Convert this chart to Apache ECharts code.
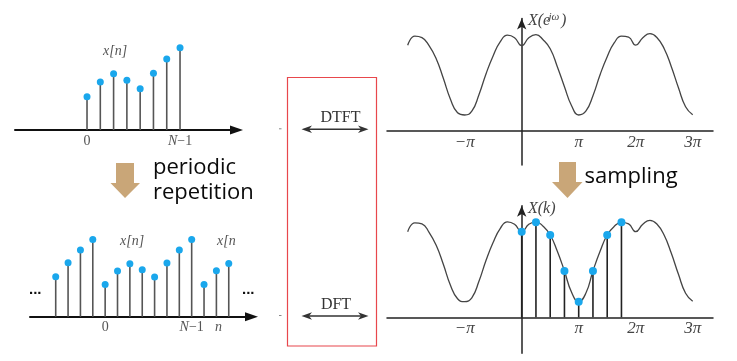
<!DOCTYPE html>
<html><head><meta charset="utf-8">
<script src="https://cdn.jsdelivr.net/npm/echarts@6/dist/echarts.min.js"></script>
<style>html,body{margin:0;padding:0;background:#fff}#c{width:737px;height:361px}</style>
</head><body><div id="c"></div>
<script>
// ---- data ----
const seqN = [0, 1, 2, 3, 4, 5, 6, 7];
const seqX = [33.3, 48, 56.3, 49.7, 41.3, 56.7, 71, 82.3];
const perN = [-4, -3, -2, -1, 0, 1, 2, 3, 4, 5, 6, 7, 8, 9, 10];
const perX = [40, 54, 66.7, 77.3, 32.3, 45.7, 53, 47, 39.7, 53.7, 66.7, 77.3, 32.3, 46, 53.3];
const seqTicks = [0, 7];
const seqTickLabels = ['0', '{i|N}−1'];
const omega = [-2, -1.875, -1.75, -1.625, -1.5, -1.375, -1.25, -1.125, -1, -0.875, -0.75, -0.625, -0.5, -0.375, -0.25, -0.125,
  0, 0.125, 0.25, 0.375, 0.5, 0.625, 0.75, 0.875, 1, 1.125, 1.25, 1.375, 1.5, 1.625, 1.75, 1.875,
  2, 2.125, 2.25, 2.375, 2.5, 2.625, 2.75, 2.875, 3];
const dtft = [85.5, 94.5, 93, 85, 72, 52.4, 31.5, 18, 15.7, 19.5, 36, 57, 75, 89, 95.5, 93,
  85, 93, 96, 91, 82, 64, 44, 25, 15.7, 19.5, 35, 56, 74, 88, 94.5, 93.5,
  85.5, 93, 97, 93, 82, 64, 43, 24, 16];
const dtftSampled = [85.5, 94.5, 93.5, 85, 72, 53, 32, 18.5, 15.6, 19.5, 36, 57, 75, 89, 95.5, 93,
  85.6, 93, 95.5, 91, 82.3, 66, 46.3, 25, 15.6, 24, 46.3, 66, 82.3, 91, 95, 93.5,
  85.6, 93, 97, 93, 82, 64, 43, 24, 16];
const kPos = [0, 0.25, 0.5, 0.75, 1, 1.25, 1.5, 1.75];
const kVal = [85.6, 95, 82.3, 46.3, 15.6, 46.3, 82.3, 95];
const piTicks = [-1, 1, 2, 3];
const piTickLabels = ['−π', 'π', '2π', '3π'];

// ---- chart ----
const SERIF = '"Liberation Serif", "DejaVu Serif", serif';
const BLUE = '#1aa7ec';
const TAN = '#c9a678';
const chart = echarts.init(document.getElementById('c'));

function pairs(xs, ys) { return xs.map((x, i) => [x, ys[i]]); }

const leftAxisLine = {show: true, symbol: ['none', 'triangle'], symbolSize: [9, 13], lineStyle: {color: '#111', width: 2}};
const leftLabel = {fontFamily: SERIF, fontSize: 14, color: '#555', margin: 4,
  rich: {i: {fontFamily: SERIF, fontSize: 14, fontStyle: 'italic', color: '#555'}}};
const rightXAxisLine = {show: true, onZero: false, lineStyle: {color: '#222', width: 1.5}};
const rightYAxisLine = {show: true, onZero: true, symbol: ['none', 'arrow'], symbolSize: [7, 11], lineStyle: {color: '#222', width: 1.5}};
const rightLabel = {fontFamily: SERIF, fontSize: 17, fontStyle: 'italic', color: '#444', margin: 3,
  customValues: piTicks, formatter: v => piTickLabels[piTicks.indexOf(v)]};
const gridBase = {outerBoundsMode: 'none', containLabel: false};

chart.setOption({
  animation: false,
  backgroundColor: '#fff',
  grid: [
    Object.assign({left: 15, width: 221.5, top: 30, height: 100}, gridBase),
    Object.assign({left: 30, width: 221.5, top: 216.7, height: 100}, gridBase),
    Object.assign({left: 387, width: 326, top: 18.5, height: 146.5}, gridBase),
    Object.assign({left: 387, width: 326, top: 205.7, height: 147.6}, gridBase)
  ],
  xAxis: [
    {type: 'value', gridIndex: 0, min: -5.42, max: 11.25, splitLine: {show: false}, axisTick: {show: false},
      axisLine: leftAxisLine,
      axisLabel: Object.assign({customValues: seqTicks, formatter: v => seqTickLabels[seqTicks.indexOf(v)]}, leftLabel)},
    {type: 'value', gridIndex: 1, min: -6.08, max: 11.84, splitLine: {show: false}, axisTick: {show: false},
      axisLine: leftAxisLine,
      axisLabel: Object.assign({customValues: seqTicks, formatter: v => seqTickLabels[seqTicks.indexOf(v)]}, leftLabel)},
    {type: 'value', gridIndex: 2, min: -2.363, max: 3.356, offset: -34.3, splitLine: {show: false}, axisTick: {show: false},
      axisLine: rightXAxisLine, axisLabel: rightLabel},
    {type: 'value', gridIndex: 3, min: -2.363, max: 3.356, offset: -36, splitLine: {show: false}, axisTick: {show: false},
      axisLine: rightXAxisLine, axisLabel: rightLabel}
  ],
  yAxis: [
    {type: 'value', gridIndex: 0, min: 0, max: 100, show: false},
    {type: 'value', gridIndex: 1, min: 0, max: 100, show: false},
    {type: 'value', gridIndex: 2, min: -34.3, max: 112.2, splitLine: {show: false}, axisTick: {show: false},
      axisLabel: {show: false}, axisLine: rightYAxisLine},
    {type: 'value', gridIndex: 3, min: -36, max: 111.6, splitLine: {show: false}, axisTick: {show: false},
      axisLabel: {show: false}, axisLine: rightYAxisLine}
  ],
  series: [
    {type: 'bar', xAxisIndex: 0, yAxisIndex: 0, barWidth: 1.6, data: pairs(seqN, seqX), itemStyle: {color: '#555'}, silent: true},
    {type: 'scatter', xAxisIndex: 0, yAxisIndex: 0, symbolSize: 7, data: pairs(seqN, seqX), itemStyle: {color: BLUE, opacity: 1}, z: 5, silent: true},
    {type: 'bar', xAxisIndex: 1, yAxisIndex: 1, barWidth: 1.6, data: pairs(perN, perX), itemStyle: {color: '#555'}, silent: true},
    {type: 'scatter', xAxisIndex: 1, yAxisIndex: 1, symbolSize: 7, data: pairs(perN, perX), itemStyle: {color: BLUE, opacity: 1}, z: 5, silent: true},
    {type: 'line', xAxisIndex: 2, yAxisIndex: 2, smooth: 0.5, showSymbol: false, data: pairs(omega, dtft),
      lineStyle: {color: '#444', width: 1.3}, silent: true},
    {type: 'line', xAxisIndex: 3, yAxisIndex: 3, smooth: 0.5, showSymbol: false, data: pairs(omega, dtftSampled),
      lineStyle: {color: '#444', width: 1.3}, silent: true},
    {type: 'bar', xAxisIndex: 3, yAxisIndex: 3, barWidth: 1.6, data: pairs(kPos, kVal), itemStyle: {color: '#222'}, silent: true},
    {type: 'scatter', xAxisIndex: 3, yAxisIndex: 3, symbolSize: 8, data: pairs(kPos, kVal), itemStyle: {color: BLUE, opacity: 1}, z: 5, silent: true}
  ],
  graphic: [
    // labels
    {type: 'text', x: 103, y: 51.5, style: {text: 'x[n]', font: 'italic 14px ' + SERIF, fill: '#555', verticalAlign: 'middle'}},
    {type: 'text', x: 120, y: 241.5, style: {text: 'x[n]', font: 'italic 14px ' + SERIF, fill: '#555', verticalAlign: 'middle'}},
    {type: 'text', x: 217, y: 241.5, style: {text: 'x[n', font: 'italic 14px ' + SERIF, fill: '#555', verticalAlign: 'middle'}},
    {type: 'text', x: 215, y: 327, style: {text: 'n', font: 'italic 14px ' + SERIF, fill: '#555', verticalAlign: 'middle'}},
    {type: 'text', x: 29, y: 290, style: {text: '...', font: 'bold 15px "Liberation Sans"', fill: '#111', verticalAlign: 'middle'}},
    {type: 'text', x: 242, y: 290, style: {text: '...', font: 'bold 15px "Liberation Sans"', fill: '#111', verticalAlign: 'middle'}},
    {type: 'text', x: 528, y: 21, style: {text: 'X(e', font: 'italic 16px ' + SERIF, fill: '#444', verticalAlign: 'middle'}},
    {type: 'text', x: 548.5, y: 17, style: {text: 'jω', font: 'italic 11px ' + SERIF, fill: '#444', verticalAlign: 'middle'}},
    {type: 'text', x: 561, y: 21, style: {text: ')', font: 'italic 16px ' + SERIF, fill: '#444', verticalAlign: 'middle'}},
    {type: 'text', x: 528, y: 208.5, style: {text: 'X(k)', font: 'italic 16px ' + SERIF, fill: '#444', verticalAlign: 'middle'}},
    // red box & transforms
    {type: 'rect', shape: {x: 287.5, y: 77.5, width: 89, height: 268.5}, style: {fill: 'none', stroke: '#e8474c', lineWidth: 1.2}},
    {type: 'text', x: 340.5, y: 118, style: {text: 'DTFT', font: '16px ' + SERIF, fill: '#333', align: 'center', verticalAlign: 'middle'}},
    {type: 'text', x: 336, y: 305, style: {text: 'DFT', font: '16px ' + SERIF, fill: '#333', align: 'center', verticalAlign: 'middle'}},
    {type: 'line', shape: {x1: 306, y1: 129.3, x2: 364, y2: 129.3}, style: {stroke: '#333', lineWidth: 1.5}},
    {type: 'polygon', shape: {points: [[301.5, 129.3], [312, 125.6], [309, 129.3], [312, 133]]}, style: {fill: '#333'}},
    {type: 'polygon', shape: {points: [[368.5, 129.3], [358, 125.6], [361, 129.3], [358, 133]]}, style: {fill: '#333'}},
    {type: 'line', shape: {x1: 306, y1: 316, x2: 364, y2: 316}, style: {stroke: '#333', lineWidth: 1.5}},
    {type: 'polygon', shape: {points: [[301.5, 316], [312, 312.3], [309, 316], [312, 319.7]]}, style: {fill: '#333'}},
    {type: 'polygon', shape: {points: [[368.5, 316], [358, 312.3], [361, 316], [358, 319.7]]}, style: {fill: '#333'}},
    {type: 'line', shape: {x1: 279, y1: 128.8, x2: 281.5, y2: 128.8}, style: {stroke: '#888', lineWidth: 1}},
    {type: 'line', shape: {x1: 279, y1: 315.5, x2: 281.5, y2: 315.5}, style: {stroke: '#888', lineWidth: 1}},
    // tan arrows
    {type: 'polygon', shape: {points: [[116, 163], [134, 163], [134, 183], [140, 183], [125, 198], [110.5, 183], [116, 183]]}, style: {fill: TAN}},
    {type: 'polygon', shape: {points: [[559, 162], [576, 162], [576, 182], [582.5, 182], [567.5, 198], [552, 182], [559, 182]]}, style: {fill: TAN}},
    {type: 'text', x: 153, y: 168, style: {text: 'periodic', font: '22px "Open Sans"', fill: '#0a0a0a', verticalAlign: 'middle'}},
    {type: 'text', x: 153, y: 193, style: {text: 'repetition', font: '22px "Open Sans"', fill: '#0a0a0a', verticalAlign: 'middle'}},
    {type: 'text', x: 584.5, y: 176.5, style: {text: 'sampling', font: '22px "Open Sans"', fill: '#0a0a0a', verticalAlign: 'middle'}}
  ]
});
</script>
</body></html>
